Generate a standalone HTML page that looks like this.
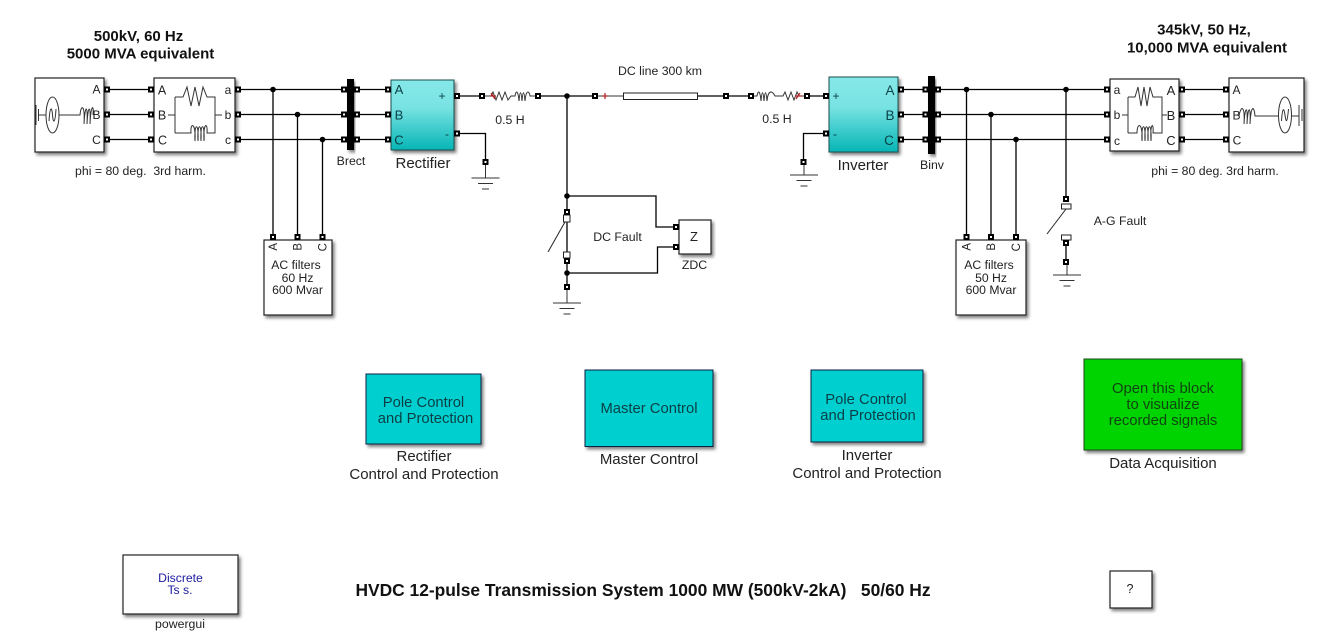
<!DOCTYPE html>
<html><head><meta charset="utf-8"><style>
html,body{margin:0;padding:0;background:#fff}
svg{display:block}
text{font-family:"Liberation Sans",sans-serif;fill:#222;text-anchor:middle}
.w{stroke:#000;stroke-width:1.3;fill:none}
.g{stroke:#333;stroke-width:1;fill:none}
.ctl{fill:#0b3f45}
.e{text-anchor:end}
</style></head><body>
<svg width="1326" height="642" viewBox="0 0 1326 642" xmlns="http://www.w3.org/2000/svg">
<defs>
<filter id="s" x="-10%" y="-10%" width="125%" height="125%"><feDropShadow dx="2" dy="2.5" stdDeviation="1.6" flood-color="#000" flood-opacity=".5"/></filter>
<linearGradient id="t" x1="0" y1="0" x2="0" y2="1"><stop offset="0" stop-color="#86e8e8"/><stop offset=".4" stop-color="#78e2e2"/><stop offset="1" stop-color="#06b5b5"/></linearGradient>
<g id="p"><rect x="-3" y="-3" width="6" height="6" fill="#000"/><rect x="-1" y="-1" width="2" height="2" fill="#fff"/></g>
<g id="gnd"><path d="M0 -14V0M-14 0H14M-7.500 5.500H7.500M-3.500 11H3.500" stroke="#333" stroke-width="1" fill="none"/></g>
<circle id="j" r="2.800" fill="#000"/>
</defs>

<!-- Wires -->
<path class="w" d="M107 89.500H151M107 114.500H151M107 139.500H151M238 89.500H388M238 114.500H388M238 139.500H388
M273 89.500V237M297.500 114.500V237M322.500 139.500V237
M457 96H482M538 96H595M567 96V287M457 133.500H485.500V162
M567 196H656V227H676M567 273H657.500V247H676
M698 96H726H751M807 96H826M826 133.500H803.500V162
M901 89.500H1107M901 114.500H1107M901 139.500H1107M1182 89.500H1226M1182 114.500H1226M1182 139.500H1226
M966.500 89.500V237M991 114.500V237M1016 139.500V237M1066 89.500V199M1066 243V262"/>
<path class="g" d="M598 96H623"/>

<!-- Left source -->
<rect x="35" y="78" width="69" height="74" fill="#fff" stroke="#222" stroke-width="1.200" filter="url(#s)"/>
<g class="g"><path d="M36 105V125M38.500 109V121M38.500 115H46"/><ellipse cx="52.500" cy="115" rx="6.500" ry="18"/><path d="M49 121C50 105 52 107 52.500 115C53 123 55 125 56 109M59 115H80C81 104 85 104 84 124C85 104 88 104 87 124C88 104 91 104 90 124C91 104 94 104 93 115"/></g>
<text x="96.500" y="93.500" font-size="12">A</text><text x="96.500" y="119" font-size="12">B</text><text x="96.500" y="144" font-size="12">C</text>

<!-- Left transformer -->
<rect x="154" y="78" width="81" height="74" fill="#fff" stroke="#222" stroke-width="1.200" filter="url(#s)"/>
<path class="g" d="M168 115H175M175 97V133M175 97H183L187 87L191 106L195 87L199 106L203 87L207 97H215V133H207C208 122 203 122 204 141C205 122 200 122 201 141C202 122 197 122 198 141C199 122 194 122 195 141C196 122 190 122 191 133H175M215 115H222"/>
<text x="162" y="94.500" font-size="12.500">A</text><text x="162" y="119.500" font-size="12.500">B</text><text x="162.500" y="144.500" font-size="12.500">C</text>
<text x="228" y="94" font-size="12">a</text><text x="228" y="119" font-size="12">b</text><text x="228" y="144" font-size="12">c</text>

<!-- Brect -->
<rect x="347" y="79" width="7" height="71" fill="#000" filter="url(#s)"/>

<!-- Rectifier -->
<rect x="391" y="80" width="63" height="70" fill="url(#t)" stroke="#1c4f4f" stroke-width="1" filter="url(#s)"/>
<text x="399" y="94" font-size="13" class="ctl">A</text><text x="399" y="119.500" font-size="13" class="ctl">B</text><text x="399" y="144.500" font-size="13" class="ctl">C</text>
<text x="442" y="100" font-size="12" class="ctl">+</text><text x="447" y="138" font-size="12" class="ctl">-</text>

<!-- DC reactor left -->
<path class="g" d="M485 96H491L493 92L496 100L499 92L502 100L505 92L508 100L511 96H515C516 90 518 90 519 101C520 90 521 90 522 101C523 90 524 90 525 101C526 90 529 90 530 96H538"/>
<path d="M491 93L495 99M490 96H496" stroke="#b02020" stroke-width="1.200" fill="none"/>
<!-- DC line -->
<path d="M605 93V99M602 96H608" stroke="#b02020" stroke-width="1.200"/>
<rect x="623.500" y="93" width="74" height="6.500" fill="#fff" stroke="#222" stroke-width="1"/>
<!-- DC reactor right -->
<path class="g" d="M751 96H757C758 90 760 90 761 101C762 90 763 90 764 101C765 90 766 90 767 101C768 90 772 90 775 96H783L785 92L788 100L791 92L794 100L797 92L799 96H807"/>
<path d="M796 99L800 93M795 96H802" stroke="#b02020" stroke-width="1.200" fill="none"/>

<!-- Inverter -->
<rect x="829" y="77" width="69" height="75" fill="url(#t)" stroke="#1c4f4f" stroke-width="1" filter="url(#s)"/>
<text x="890" y="95" font-size="13.500" class="ctl">A</text><text x="890" y="120" font-size="13.500" class="ctl">B</text><text x="889" y="145" font-size="13.500" class="ctl">C</text>
<text x="836" y="100" font-size="12" class="ctl">+</text><text x="835" y="138" font-size="12" class="ctl">-</text>

<!-- Binv -->
<rect x="928" y="76" width="7" height="78" fill="#000" filter="url(#s)"/>

<!-- Right transformer -->
<rect x="1110" y="79" width="69" height="72" fill="#fff" stroke="#222" stroke-width="1.200" filter="url(#s)"/>
<path class="g" d="M1122 115H1128M1128 97V133M1128 97H1135L1138 87L1141 106L1144 87L1147 106L1150 87L1153 97H1162V133H1153C1154 122 1150 122 1151 141C1152 122 1147 122 1148 141C1149 122 1144 122 1145 141C1146 122 1141 122 1142 141C1143 122 1137 122 1137 133H1128M1162 115H1167"/>
<text x="1117" y="94" font-size="12">a</text><text x="1117" y="119" font-size="12">b</text><text x="1117" y="145" font-size="12">c</text>
<text x="1171" y="95" font-size="13">A</text><text x="1171" y="120" font-size="13">B</text><text x="1171" y="145" font-size="13">C</text>

<!-- Right source -->
<rect x="1229" y="78" width="75" height="74" fill="#fff" stroke="#222" stroke-width="1.200" filter="url(#s)"/>
<g class="g"><path d="M1239 116C1241 105 1245 105 1244 124C1245 105 1248 105 1247 124C1248 105 1251 105 1250 124C1251 105 1254 105 1255 116H1278M1292 116H1299M1299 105V126M1302 109V121"/><ellipse cx="1285" cy="115" rx="6.500" ry="18"/><path d="M1281.500 121C1282.500 106 1284 108 1285 115C1286 122 1287 125 1288.500 109"/></g>
<text x="1236.500" y="94" font-size="12">A</text><text x="1236.500" y="119.500" font-size="12">B</text><text x="1237" y="144.500" font-size="12">C</text>

<!-- AC filters -->
<rect x="264" y="240" width="68" height="75" fill="#fff" stroke="#222" stroke-width="1.200" filter="url(#s)"/>
<g font-size="11.500"><text transform="translate(277,243) rotate(-90)" class="e">A</text><text transform="translate(301.500,243) rotate(-90)" class="e">B</text><text transform="translate(326.500,243) rotate(-90)" class="e">C</text></g>
<g font-size="12.200"><text x="296" y="269">AC filters</text><text x="297.500" y="282">60 Hz</text><text x="297.500" y="294">600 Mvar</text></g>

<rect x="956" y="240" width="70" height="75" fill="#fff" stroke="#222" stroke-width="1.200" filter="url(#s)"/>
<g font-size="11.500"><text transform="translate(970.500,243) rotate(-90)" class="e">A</text><text transform="translate(995,243) rotate(-90)" class="e">B</text><text transform="translate(1020,243) rotate(-90)" class="e">C</text></g>
<g font-size="12.200"><text x="989" y="269">AC filters</text><text x="991" y="282">50 Hz</text><text x="991" y="294">600 Mvar</text></g>

<!-- DC Fault -->
<rect x="563.500" y="215" width="6.500" height="7" fill="#fff" stroke="#222" stroke-width="1"/>
<path d="M565 222L548 252" stroke="#222" stroke-width="1"/>
<rect x="563.500" y="252" width="6.500" height="6" fill="#fff" stroke="#222" stroke-width="1"/>
<rect x="679" y="220" width="32" height="34" fill="#fff" stroke="#222" stroke-width="1.200" filter="url(#s)"/>
<text x="694" y="241" font-size="13">Z</text>

<!-- AG Fault -->
<rect x="1061.500" y="204" width="9.500" height="5" fill="#fff" stroke="#222" stroke-width="1"/>
<path d="M1066 209L1047 234" stroke="#222" stroke-width="1"/>
<rect x="1061.500" y="235" width="9.500" height="5" fill="#fff" stroke="#222" stroke-width="1"/>

<!-- Grounds -->
<use href="#gnd" x="485.500" y="178"/>
<use href="#gnd" x="804" y="175"/>
<use href="#gnd" x="567" y="303"/>
<use href="#gnd" x="1067" y="275"/>

<!-- Ports -->
<use href="#p" x="107" y="89.500"/><use href="#p" x="107" y="114.500"/><use href="#p" x="107" y="139.500"/>
<use href="#p" x="151" y="89.500"/><use href="#p" x="151" y="114.500"/><use href="#p" x="151" y="139.500"/>
<use href="#p" x="238" y="89.500"/><use href="#p" x="238" y="114.500"/><use href="#p" x="238" y="139.500"/>
<use href="#p" x="344" y="89.500"/><use href="#p" x="344" y="114.500"/><use href="#p" x="344" y="139.500"/>
<use href="#p" x="357" y="89.500"/><use href="#p" x="357" y="114.500"/><use href="#p" x="357" y="139.500"/>
<use href="#p" x="388" y="89.500"/><use href="#p" x="388" y="114.500"/><use href="#p" x="388" y="139.500"/>
<use href="#p" x="457" y="96"/><use href="#p" x="457" y="133.500"/><use href="#p" x="482" y="96"/><use href="#p" x="538" y="96"/>
<use href="#p" x="485.500" y="162"/><use href="#p" x="595" y="96"/><use href="#p" x="726" y="96"/><use href="#p" x="751" y="96"/>
<use href="#p" x="807" y="96"/><use href="#p" x="826" y="96"/><use href="#p" x="826" y="133.500"/><use href="#p" x="803.500" y="162"/>
<use href="#p" x="901" y="89.500"/><use href="#p" x="901" y="114.500"/><use href="#p" x="901" y="139.500"/>
<use href="#p" x="925.500" y="89.500"/><use href="#p" x="925.500" y="114.500"/><use href="#p" x="925.500" y="139.500"/>
<use href="#p" x="938" y="89.500"/><use href="#p" x="938" y="114.500"/><use href="#p" x="938" y="139.500"/>
<use href="#p" x="1107" y="89.500"/><use href="#p" x="1107" y="114.500"/><use href="#p" x="1107" y="139.500"/>
<use href="#p" x="1182" y="89.500"/><use href="#p" x="1182" y="114.500"/><use href="#p" x="1182" y="139.500"/>
<use href="#p" x="1226" y="89.500"/><use href="#p" x="1226" y="114.500"/><use href="#p" x="1226" y="139.500"/>
<use href="#p" x="273" y="237"/><use href="#p" x="297.500" y="237"/><use href="#p" x="322.500" y="237"/>
<use href="#p" x="966.500" y="237"/><use href="#p" x="991" y="237"/><use href="#p" x="1016" y="237"/>
<use href="#p" x="567" y="212"/><use href="#p" x="567" y="261"/><use href="#p" x="567" y="287"/>
<use href="#p" x="676" y="227"/><use href="#p" x="676" y="247"/>
<use href="#p" x="1066" y="199"/><use href="#p" x="1066" y="243"/><use href="#p" x="1066" y="262"/>

<!-- Junctions -->
<use href="#j" x="273" y="89.500"/><use href="#j" x="297.500" y="114.500"/><use href="#j" x="322.500" y="139.500"/>
<use href="#j" x="567" y="96"/><use href="#j" x="567" y="196"/><use href="#j" x="567" y="273"/>
<use href="#j" x="966.500" y="89.500"/><use href="#j" x="991" y="114.500"/><use href="#j" x="1016" y="139.500"/><use href="#j" x="1066" y="89.500"/>

<!-- Labels -->
<g font-size="15" font-weight="bold"><text x="138.500" y="41" style="fill:#111">500kV, 60 Hz</text><text x="140.500" y="58.500" style="fill:#111">5000 MVA equivalent</text>
<text x="1204" y="34.500" style="fill:#111">345kV, 50 Hz,</text><text x="1207" y="52.500" style="fill:#111">10,000 MVA equivalent</text></g>
<g font-size="12.300"><text x="140.500" y="175">phi = 80 deg.&#160; 3rd harm.</text><text x="351" y="165">Brect</text>
<text x="510" y="124">0.5 H</text><text x="660" y="75">DC line 300 km</text><text x="777" y="123">0.5 H</text>
<text x="932" y="169">Binv</text><text x="1215" y="175">phi = 80 deg. 3rd harm.</text>
<text x="617.500" y="241">DC Fault</text><text x="694.500" y="269">ZDC</text><text x="1120" y="225">A-G Fault</text><text x="180" y="628">powergui</text></g>
<text x="423" y="168" font-size="15">Rectifier</text><text x="863" y="170" font-size="15">Inverter</text>

<!-- Control blocks -->
<rect x="366" y="374" width="115" height="70" fill="#00cfcf" stroke="#124" stroke-width="1" filter="url(#s)"/>
<rect x="585" y="370" width="128" height="76.500" fill="#00cfcf" stroke="#124" stroke-width="1" filter="url(#s)"/>
<rect x="811" y="370" width="112" height="72" fill="#00cfcf" stroke="#124" stroke-width="1" filter="url(#s)"/>
<rect x="1084" y="359" width="158" height="91" fill="#00d400" stroke="#1c4a1c" stroke-width="1" filter="url(#s)"/>
<g font-size="14.800">
<text x="423.500" y="407" class="ctl">Pole Control</text><text x="425.500" y="423" class="ctl">and Protection</text>
<text x="649" y="413" class="ctl">Master Control</text>
<text x="866" y="404" class="ctl">Pole Control</text><text x="868" y="420" class="ctl">and Protection</text>
<text x="1163" y="393" style="fill:#114411">Open this block</text><text x="1163" y="409" style="fill:#114411">to visualize</text><text x="1163" y="425" style="fill:#114411">recorded signals</text>
</g>
<g font-size="15"><text x="424" y="461">Rectifier</text><text x="424" y="479">Control and Protection</text>
<text x="649" y="464">Master Control</text>
<text x="867" y="460">Inverter</text><text x="867" y="478">Control and Protection</text>
<text x="1163" y="468">Data Acquisition</text></g>

<!-- powergui -->
<rect x="123" y="555" width="115" height="59" fill="#fff" stroke="#222" stroke-width="1.200" filter="url(#s)"/>
<text x="180.500" y="582" font-size="12.200" style="fill:#1a1aa0">Discrete</text><text x="180" y="594" font-size="12.200" style="fill:#1a1aa0">Ts s.</text>

<text x="643" y="596" font-size="17.400" font-weight="bold" style="fill:#111" xml:space="preserve">HVDC 12-pulse Transmission System 1000 MW (500kV-2kA)&#160;&#160; 50/60 Hz</text>

<rect x="1110" y="571" width="42" height="37" fill="#fff" stroke="#222" stroke-width="1.200" filter="url(#s)"/>
<text x="1130" y="593" font-size="12.500">?</text>
</svg>
</body></html>
